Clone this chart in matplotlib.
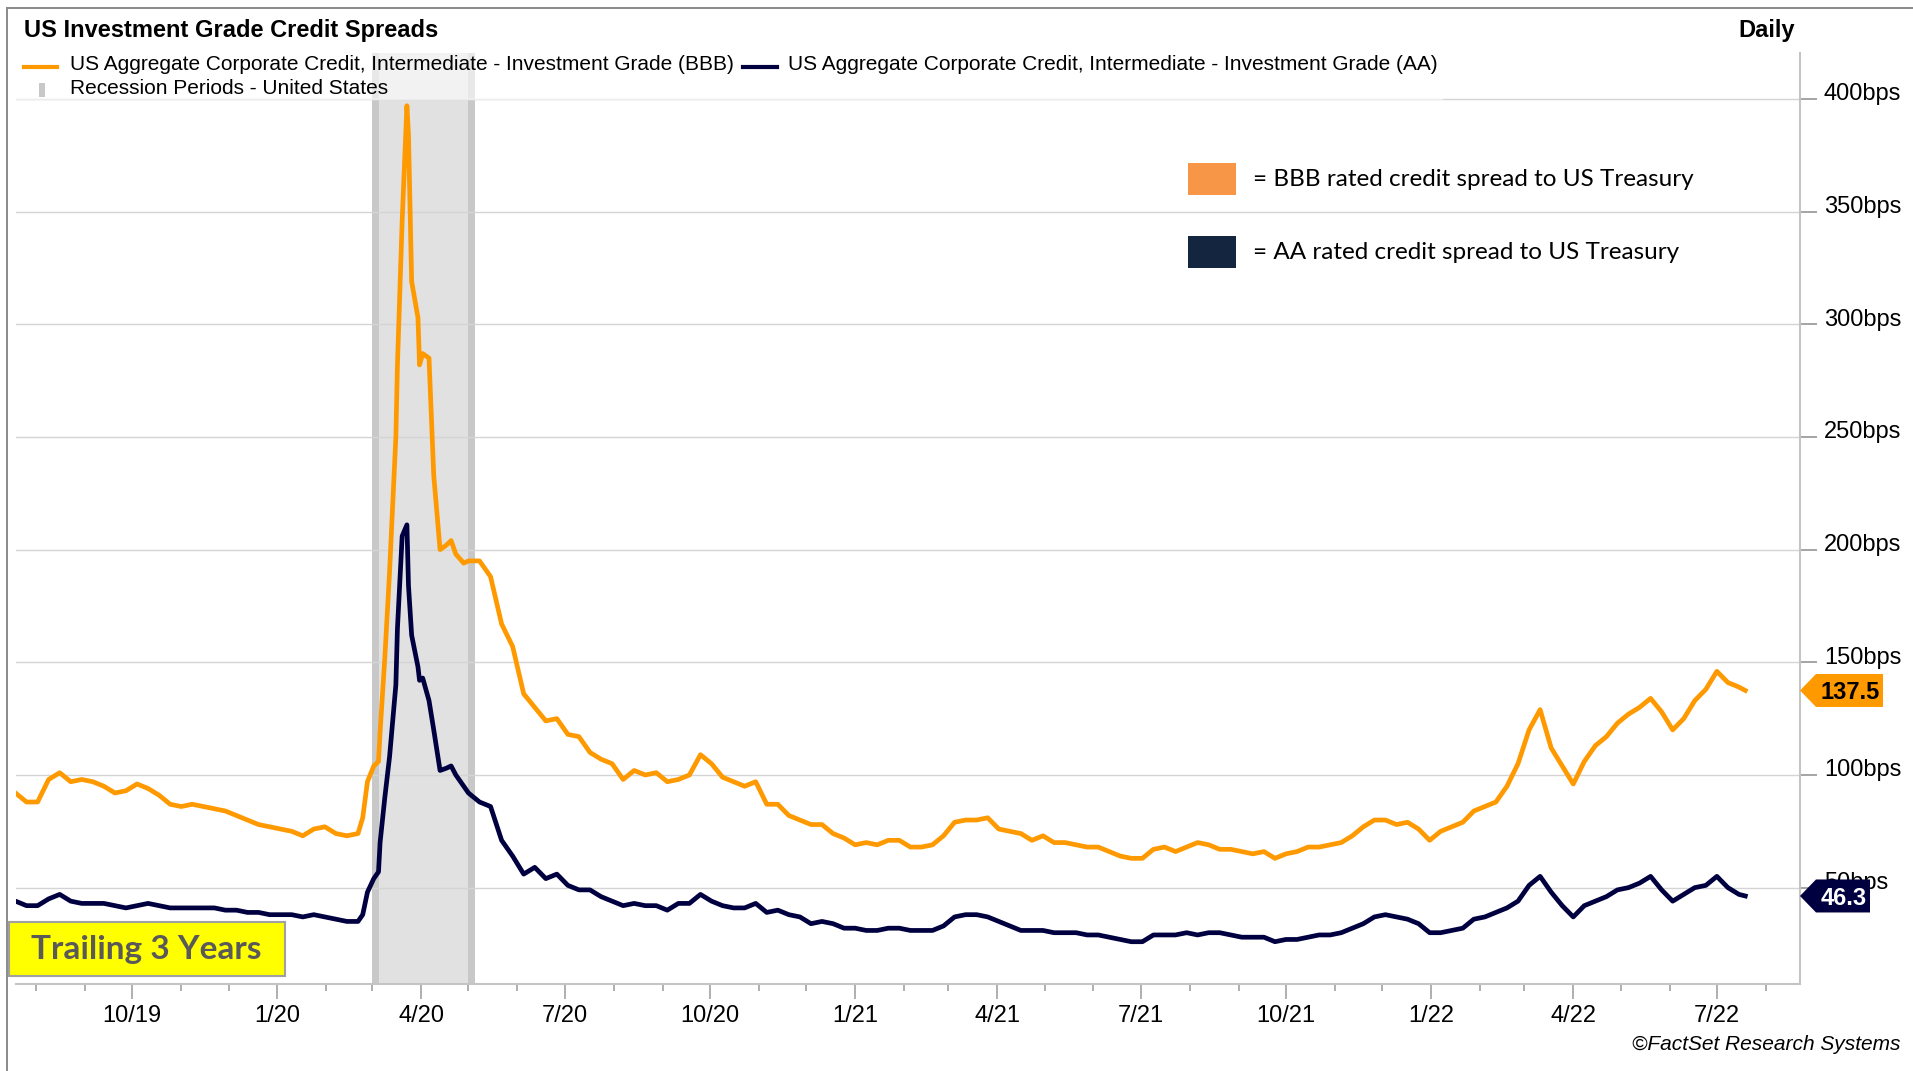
import matplotlib
matplotlib.use('Agg')
import matplotlib.pyplot as plt
import matplotlib.transforms as mtrans
import pandas as pd
from matplotlib.patches import Polygon, Rectangle
from matplotlib.lines import Line2D

# ---------------- data ----------------
title = "US Investment Grade Credit Spreads"
freq_label = "Daily"
bbb_label = "US Aggregate Corporate Credit, Intermediate - Investment Grade (BBB)"
aa_label = "US Aggregate Corporate Credit, Intermediate - Investment Grade (AA)"
rec_label = "Recession Periods - United States"
note_bbb = "= BBB rated credit spread to US Treasury"
note_aa = "= AA rated credit spread to US Treasury"
badge_text = "Trailing 3 Years"
source_text = "\u00a9FactSet Research Systems"

pre_dates = pd.date_range('2019-07-19', '2020-02-21', freq='7D')
bbb_pre = [92, 88, 88, 98, 101, 97, 98, 97, 95, 92, 93, 96, 94, 91, 87, 86,
           87, 86, 85, 84, 82, 80, 78, 77, 76, 75, 73, 76, 77, 74, 73, 74]
aa_pre = [44, 42, 42, 45, 47, 44, 43, 43, 43, 42, 41, 42, 43, 42, 41, 41,
          41, 41, 41, 40, 40, 39, 39, 38, 38, 38, 37, 38, 37, 36, 35, 35]

crisis_dates = pd.to_datetime([
    '2020-02-24', '2020-02-27', '2020-03-02', '2020-03-05', '2020-03-06',
    '2020-03-09', '2020-03-12', '2020-03-16', '2020-03-17', '2020-03-20',
    '2020-03-23', '2020-03-24', '2020-03-26', '2020-03-30', '2020-03-31',
    '2020-04-02', '2020-04-06', '2020-04-09', '2020-04-13', '2020-04-17',
    '2020-04-20', '2020-04-23', '2020-04-28', '2020-05-01'])
bbb_crisis = [81, 97, 104, 106, 119, 152, 190, 250, 282, 346, 397, 384, 319,
              303, 282, 287, 285, 233, 200, 202, 204, 198, 194, 195]
aa_crisis = [38, 48, 54, 57, 70, 90, 108, 140, 165, 206, 211, 184, 162, 148,
             142, 143, 133, 120, 102, 103, 104, 100, 95, 92]

post_dates = pd.date_range('2020-05-08', '2022-07-15', freq='7D')
bbb_post = [195, 188, 167, 157, 136, 130, 124, 125, 118, 117, 110, 107, 105,
            98, 102, 100, 101, 97, 98, 100, 109, 105, 99, 97, 95, 97, 87, 87,
            82, 80, 78, 78, 74, 72, 69, 70, 69, 71, 71, 68, 68, 69, 73, 79,
            80, 80, 81, 76, 75, 74, 71, 73, 70, 70, 69, 68, 68, 66, 64, 63,
            63, 67, 68, 66, 68, 70, 69, 67, 67, 66, 65, 66, 63, 65, 66, 68,
            68, 69, 70, 73, 77, 80, 80, 78, 79, 76, 71, 75, 77, 79, 84, 86,
            88, 95, 105, 120, 129, 112, 104, 96, 106, 113, 117, 123, 127,
            130, 134, 128, 120, 125, 133, 138, 146, 141, 139]
aa_post = [88, 86, 71, 64, 56, 59, 54, 56, 51, 49, 49, 46, 44, 42, 43, 42,
           42, 40, 43, 43, 47, 44, 42, 41, 41, 43, 39, 40, 38, 37, 34, 35,
           34, 32, 32, 31, 31, 32, 32, 31, 31, 31, 33, 37, 38, 38, 37, 35,
           33, 31, 31, 31, 30, 30, 30, 29, 29, 28, 27, 26, 26, 29, 29, 29,
           30, 29, 30, 30, 29, 28, 28, 28, 26, 27, 27, 28, 29, 29, 30, 32,
           34, 37, 38, 37, 36, 34, 30, 30, 31, 32, 36, 37, 39, 41, 44, 51,
           55, 48, 42, 37, 42, 44, 46, 49, 50, 52, 55, 49, 44, 47, 50, 51,
           55, 50, 47]

last_date = pd.to_datetime(['2022-07-19'])
bbb_last = [137.5]
aa_last = [46.3]

recession_start = pd.Timestamp('2020-03-01')
recession_end = pd.Timestamp('2020-05-01')

x_major = pd.to_datetime(['2019-10-01', '2020-01-01', '2020-04-01', '2020-07-01',
                          '2020-10-01', '2021-01-01', '2021-04-01', '2021-07-01',
                          '2021-10-01', '2022-01-01', '2022-04-01', '2022-07-01'])
x_labels = ['10/19', '1/20', '4/20', '7/20', '10/20', '1/21', '4/21', '7/21',
            '10/21', '1/22', '4/22', '7/22']
x_minor = pd.date_range('2019-08-01', '2022-08-01', freq='MS')
y_ticks = [50, 100, 150, 200, 250, 300, 350, 400]
y_labels = [f"{v}bps" for v in y_ticks]

dates = pre_dates.append(crisis_dates).append(post_dates).append(last_date)
bbb = bbb_pre + bbb_crisis + bbb_post + bbb_last
aa = aa_pre + aa_crisis + aa_post + aa_last

# ---------------- style ----------------
W, H = 1913, 1071
ORANGE = '#FF9900'
NAVY = '#000040'
SANS = ['Liberation Sans', 'DejaVu Sans']
CAL = ['Lato', 'DejaVu Sans']

def fx(px):
    return px / W

def fy(py):
    return 1 - py / H

fig = plt.figure(figsize=(W / 100, H / 100), dpi=100)
fig.patch.set_facecolor('white')
ax = fig.add_axes([fx(15.5), fy(984.3), fx(1800) - fx(15.5), (984.3 - 53) / H])
ax.set_facecolor('none')

ax.set_xlim(pd.Timestamp('2019-07-19'), pd.Timestamp('2022-08-22 16:00'))
ax.set_ylim(7.1, 420.4)

# recession shading
ax.axvspan(recession_start, recession_end + pd.Timedelta(days=4), color='#e1e1e1', lw=0, zorder=0.5)
ax.axvspan(recession_start, recession_start + pd.Timedelta(days=4), color='#c8c8c8', lw=0, zorder=0.6)
ax.axvspan(recession_end, recession_end + pd.Timedelta(days=4), color='#c8c8c8', lw=0, zorder=0.6)

# grid
for v in y_ticks:
    ax.axhline(v, color='#d4d4d4', lw=1.0, zorder=1)

ax.plot(dates, bbb, color=ORANGE, lw=3.4, zorder=3, solid_joinstyle='round')
ax.plot(dates, aa, color=NAVY, lw=3.4, zorder=3, solid_joinstyle='round')

# spines
for s in ['top', 'left']:
    ax.spines[s].set_visible(False)
ax.spines['right'].set_color('#c4c4c4')
ax.spines['right'].set_linewidth(1.5)
ax.spines['bottom'].set_color('#c4c4c4')
ax.spines['bottom'].set_linewidth(1.5)

ax.yaxis.tick_right()
ax.set_yticks(y_ticks)
ax.set_yticklabels(y_labels, fontsize=17, family=SANS)
ax.tick_params(axis='y', direction='out', length=12.2, width=1.1, color='#8c8c8c', pad=5)
offset = mtrans.ScaledTranslation(0, 7 / 100, fig.dpi_scale_trans)
for lab in ax.get_yticklabels():
    lab.set_transform(lab.get_transform() + offset)

ax.set_xticks(x_major)
ax.set_xticklabels(x_labels, fontsize=17, family=SANS)
ax.set_xticks(x_minor, minor=True)
ax.tick_params(axis='x', which='major', direction='out', length=10.8, width=1.1, color='#9a9a9a', pad=4)
ax.tick_params(axis='x', which='minor', direction='out', length=5, width=1.1, color='#9a9a9a')

# value tags
def tag(value, color, tcolor, right):
    yp = ax.transData.transform((0, value))[1]  # pixels from bottom
    yc = H - yp
    hh = 16.5
    pts = [(fx(1800), fy(yc)), (fx(1816), fy(yc - hh)), (fx(right), fy(yc - hh)),
           (fx(right), fy(yc + hh)), (fx(1816), fy(yc + hh))]
    fig.patches.append(Polygon(pts, closed=True, facecolor=color, edgecolor='none',
                               transform=fig.transFigure, zorder=6))
    fig.text(fx((1816 + right) / 2 + 1), fy(yc), f"{value:.1f}", color=tcolor, fontsize=17,
             fontweight='bold', family=SANS, ha='center', va='center_baseline', zorder=7)

tag(bbb_last[0], ORANGE, 'black', 1883)
tag(aa_last[0], NAVY, 'white', 1870)

# legend box overlay
fig.patches.append(Rectangle((fx(15.5), fy(99)), fx(1442) - fx(15.5), (99 - 53) / H,
                             facecolor='white', alpha=0.6, edgecolor='none',
                             transform=fig.transFigure, zorder=4))
fig.lines.append(Line2D([fx(15.5), fx(1442)], [fy(99), fy(99)], color='#ececec', lw=1,
                        transform=fig.transFigure, zorder=4))

# title and header
fig.text(fx(24), fy(31), title, fontsize=17, fontweight='bold', family=SANS, va='center', ha='left')
fig.text(fx(1795), fy(31), freq_label, fontsize=17, fontweight='bold', family=SANS, va='center', ha='right')

# legend entries
fig.lines.append(Line2D([fx(24), fx(57)], [fy(67), fy(67)], color=ORANGE, lw=3,
                        transform=fig.transFigure, zorder=5))
fig.text(fx(70), fy(64), bbb_label, fontsize=15, family=SANS, va='center', ha='left', zorder=5)
fig.lines.append(Line2D([fx(743), fx(777)], [fy(67), fy(67)], color=NAVY, lw=3,
                        transform=fig.transFigure, zorder=5))
fig.text(fx(788), fy(64), aa_label, fontsize=15, family=SANS, va='center', ha='left', zorder=5)
fig.patches.append(Rectangle((fx(39), fy(97)), fx(45) - fx(39), 14 / H, facecolor='#c8c8c8',
                             edgecolor='none', transform=fig.transFigure, zorder=5))
fig.text(fx(70), fy(88), rec_label, fontsize=15, family=SANS, va='center', ha='left', zorder=5)

# explanatory notes
fig.patches.append(Rectangle((fx(1188), fy(194.5)), fx(1236) - fx(1188), 32 / H,
                             facecolor='#F79646', edgecolor='none', transform=fig.transFigure, zorder=5))
fig.text(fx(1253), fy(179), note_bbb, fontsize=17.5, family=CAL, va='center', ha='left', zorder=5)
fig.patches.append(Rectangle((fx(1188), fy(268)), fx(1236) - fx(1188), 32 / H,
                             facecolor='#13253F', edgecolor='none', transform=fig.transFigure, zorder=5))
fig.text(fx(1253), fy(252.5), note_aa, fontsize=17.5, family=CAL, va='center', ha='left', zorder=5)

# badge
fig.patches.append(Rectangle((fx(8.5), fy(976)), fx(285) - fx(8.5), (976 - 922) / H,
                             facecolor='#FFFF00', edgecolor='#a0a0a0', lw=1.5,
                             transform=fig.transFigure, zorder=5))
fig.text(fx(146), fy(950), badge_text, fontsize=24, fontweight='bold', family=CAL,
         color='#595959', va='center', ha='center', zorder=6)

# source
fig.text(fx(1900), fy(1045), source_text, fontsize=15, style='italic', family=SANS,
         va='center', ha='right')

# figure frame (left and top)
fig.lines.append(Line2D([fx(7.3), fx(7.3)], [fy(8), 0], color='#8a8a8a', lw=1.4, transform=fig.transFigure))
fig.lines.append(Line2D([fx(7.3), 1], [fy(8), fy(8)], color='#8a8a8a', lw=1.4, transform=fig.transFigure))

fig.savefig('out.png', dpi=100, facecolor='white')
